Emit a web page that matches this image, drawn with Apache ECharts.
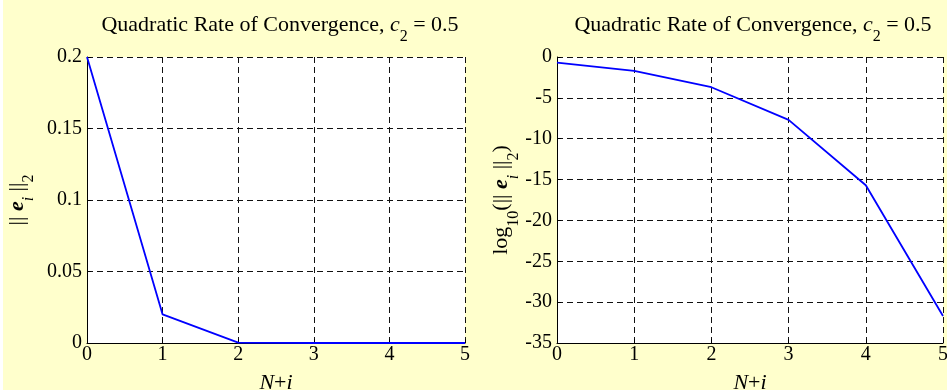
<!DOCTYPE html>
<html>
<head>
<meta charset="utf-8">
<script src="https://cdn.jsdelivr.net/npm/echarts@6/dist/echarts.min.js"></script>
<style>
  html, body { margin: 0; padding: 0; background: #ffffff; }
  #chart { position: absolute; left: 3px; top: 0; width: 944px; height: 390px; }
</style>
</head>
<body>
<div id="chart"></div>
<script>
// Iteration index N+i
const steps = [0, 1, 2, 3, 4, 5];
// Error norm ||e_i||_2 at each step
const errNorm = [0.2, 0.02, 0.0002, 2e-8, 2e-16, 2e-32];
// log10 of the error norm
const logErr = [-0.699, -1.699, -3.699, -7.699, -15.699, -31.699];
// Axis tick settings
const xTicks = { min: 0, max: 5, interval: 1 };
const yLinear = { min: 0, max: 0.2, interval: 0.05 };
const yLog = { min: -35, max: 0, interval: 5 };

const serif = '"Liberation Serif", "Times New Roman", serif';
const tickFs = 20;
const nameFs = 22;
const subFs = 16;

function tok(extra) {
  return Object.assign({
    fontFamily: serif, fontSize: nameFs, lineHeight: nameFs, color: '#000',
    fontWeight: 'normal', verticalAlign: 'top'
  }, extra || {});
}

// Rich text styles: plain, italic, bold italic vector, subscripts
const richBase = {
  a: tok(),
  i: tok({ fontStyle: 'italic' }),
  e: tok({ fontStyle: 'italic', fontWeight: 'bold' }),
  sub: tok({ fontSize: subFs, lineHeight: subFs, padding: [15, 0, 0, 0] }),
  isub: tok({ fontSize: subFs, lineHeight: subFs, fontStyle: 'italic', padding: [15, 0, 0, 0] })
};

const titleText = '{a|Quadratic Rate of Convergence, }{i|c}{sub|2}{a| = 0.5}';

function grid(left, right) {
  return {
    left: left, right: right, top: 57, bottom: 47,
    containLabel: false, outerBoundsMode: 'none',
    show: true, backgroundColor: '#ffffff', borderWidth: 0
  };
}

const dashed = { show: true, lineStyle: { color: '#111', type: [6, 4], width: 1 } };
const axisLine = { show: true, onZero: false, lineStyle: { color: '#000', width: 1 } };
const tick = { show: true, inside: true, length: 4, lineStyle: { color: '#000' } };
const tickLabel = { fontFamily: serif, fontSize: tickFs, color: '#000' };

function xAxis(gridIndex) {
  return {
    type: 'value', gridIndex: gridIndex,
    min: xTicks.min, max: xTicks.max, interval: xTicks.interval,
    axisLine: axisLine, axisTick: tick, splitLine: dashed,
    axisLabel: Object.assign({ margin: 2 }, tickLabel),
    name: '{i|N}{a|+}{i|i}', nameLocation: 'middle', nameGap: 29,
    nameTextStyle: { rich: richBase }
  };
}

function yAxis(gridIndex, cfg, name, gap) {
  return {
    type: 'value', gridIndex: gridIndex,
    min: cfg.min, max: cfg.max, interval: cfg.interval,
    axisLine: axisLine, axisTick: tick, splitLine: dashed,
    axisLabel: Object.assign({ margin: 5 }, tickLabel),
    name: name, nameLocation: 'middle', nameGap: gap, nameRotate: 90,
    nameTextStyle: { rich: richBase }
  };
}

const chart = echarts.init(document.getElementById('chart'), null, { renderer: 'canvas' });
chart.setOption({
  backgroundColor: '#ffffcc',
  animation: false,
  title: [
    { text: titleText, left: 272, top: 9, textAlign: 'center',
      textStyle: { fontWeight: 'normal', rich: richBase } },
    { text: titleText, left: 745, top: 9, textAlign: 'center',
      textStyle: { fontWeight: 'normal', rich: richBase } }
  ],
  grid: [grid(84, 482), grid(554, 4)],
  xAxis: [xAxis(0), xAxis(1)],
  yAxis: [
    yAxis(0, yLinear, '{a||| }{e|e}{isub|i}{a| ||}{sub|2}', 59),
    yAxis(1, yLog, '{a|log}{sub|10}{a|(|| }{e|e}{isub|i}{a| ||}{sub|2}{a|)}', 38)
  ],
  series: [
    {
      type: 'line', xAxisIndex: 0, yAxisIndex: 0,
      data: steps.map((s, k) => [s, errNorm[k]]),
      showSymbol: false, lineStyle: { color: '#0000ff', width: 1.8 }
    },
    {
      type: 'line', xAxisIndex: 1, yAxisIndex: 1,
      data: steps.map((s, k) => [s, logErr[k]]),
      showSymbol: false, lineStyle: { color: '#0000ff', width: 1.8 }
    }
  ]
});
</script>
</body>
</html>
